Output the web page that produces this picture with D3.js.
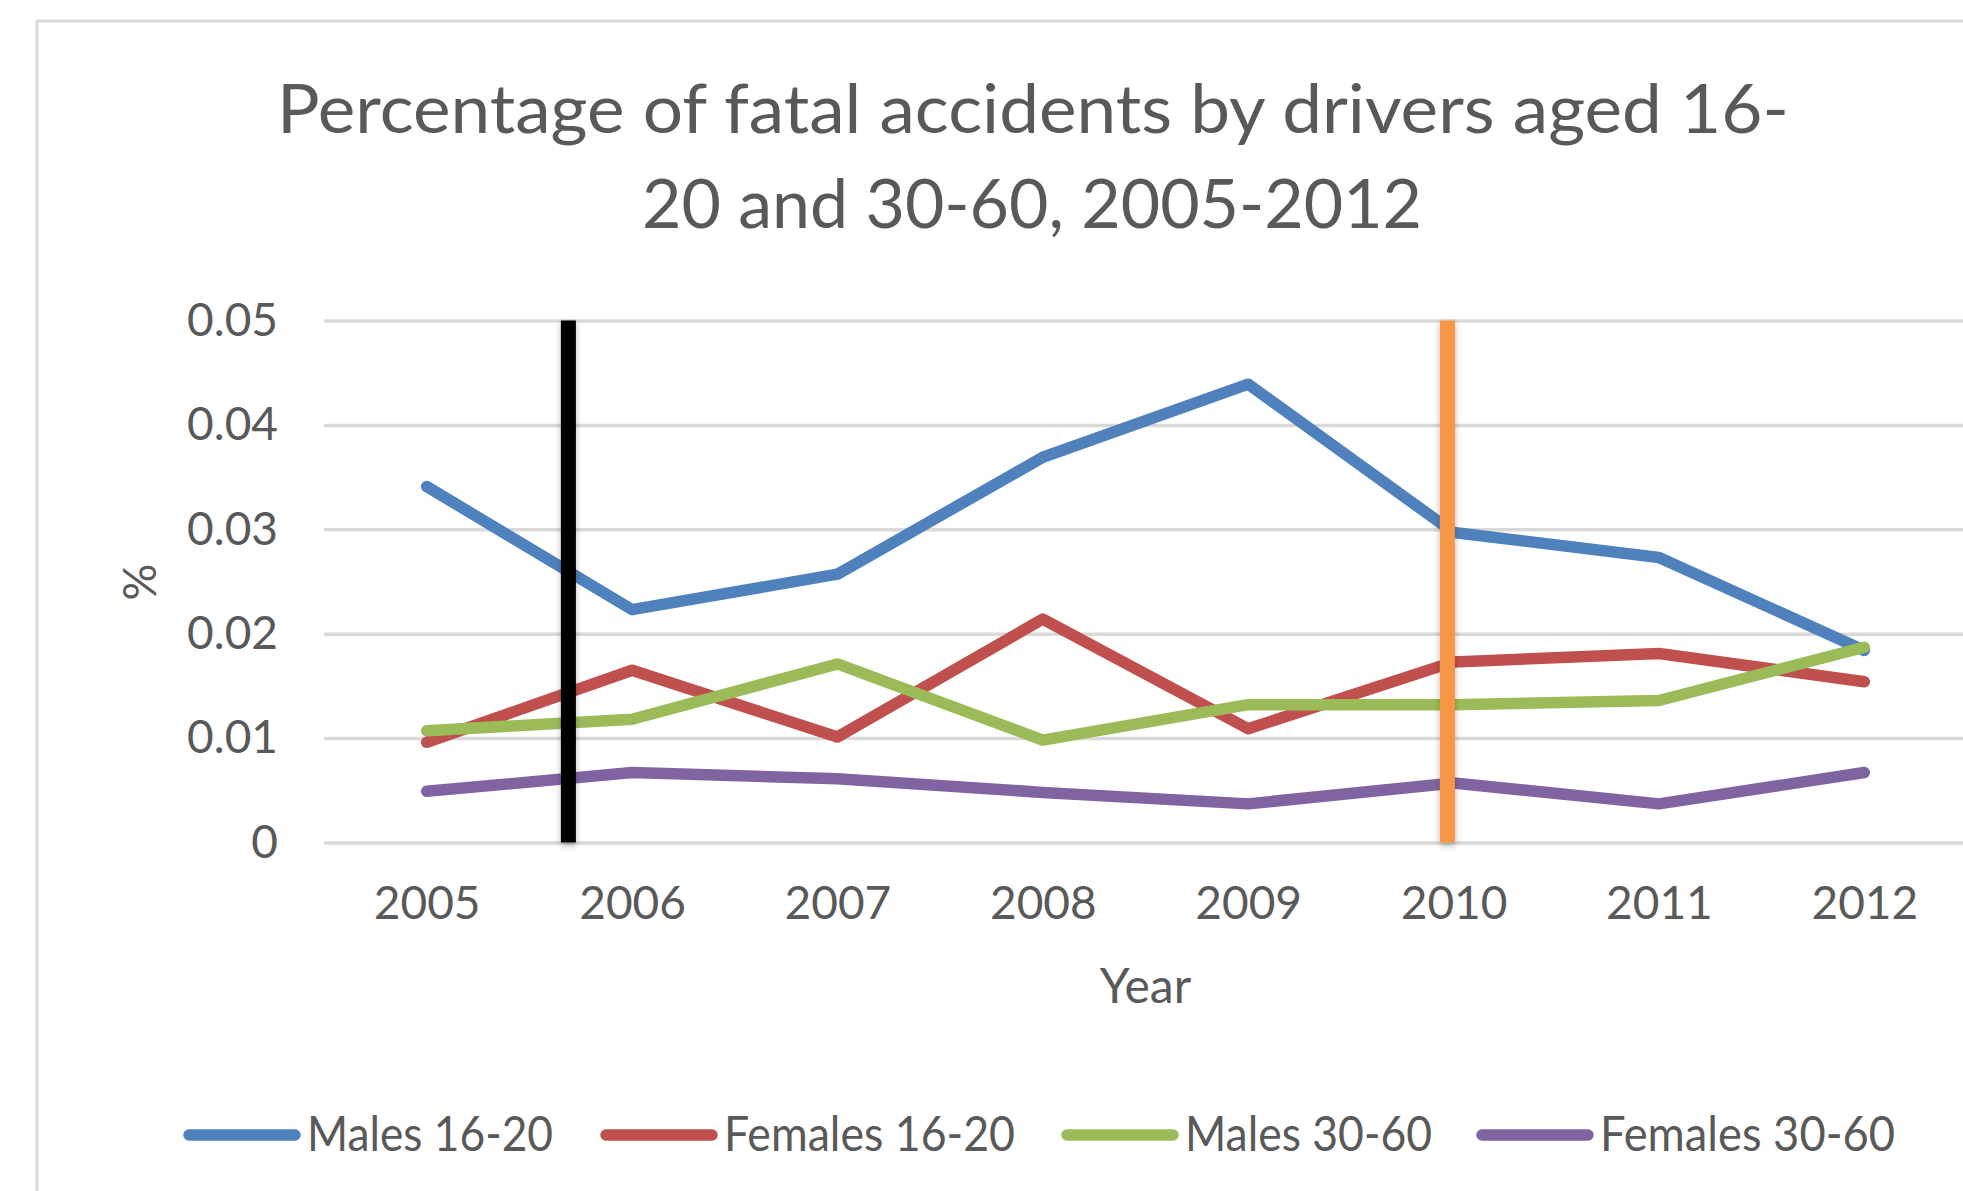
<!DOCTYPE html>
<html>
<head>
<meta charset="utf-8">
<script src="https://cdn.jsdelivr.net/npm/d3@7"></script>
<style>
  body { margin: 0; background: #fff; }
  svg { display: block; }
  text { font-family: Lato, "Open Sans", sans-serif; fill: #595959; }
</style>
</head>
<body>
<script>
// data
var years = [2005, 2006, 2007, 2008, 2009, 2010, 2011, 2012];
var males1620   = [0.0341, 0.0223, 0.0257, 0.0369, 0.0439, 0.0297, 0.0273, 0.0184];
var females1620 = [0.0096, 0.0165, 0.0101, 0.0214, 0.0109, 0.0173, 0.0181, 0.0154];
var males3060   = [0.0107, 0.0118, 0.0171, 0.0098, 0.0132, 0.0132, 0.0136, 0.0187];
var females3060 = [0.0049, 0.0067, 0.0061, 0.0048, 0.0037, 0.0057, 0.0037, 0.0067];
var seriesNames = ["Males 16-20", "Females 16-20", "Males 30-60", "Females 30-60"];
var yTicks = [0, 0.01, 0.02, 0.03, 0.04, 0.05];
var markerYears = [2005.69, 2009.97];   // the two drawn vertical bars
var markerColors = ["#000000", "#f79646"];

var colors = ["#4f81bd", "#c0504d", "#9bbb59", "#8064a2"];
var series = [males1620, females1620, males3060, females3060];

var W = 1963, H = 1191;
var svg = d3.select("body").append("svg")
    .attr("width", W)
    .attr("height", H);

// soft shadow like the excel shapes
var f = svg.append("defs").append("filter")
    .attr("id", "shadow")
    .attr("x", "-150%").attr("y", "-5%")
    .attr("width", "400%").attr("height", "115%");
f.append("feGaussianBlur").attr("in", "SourceAlpha").attr("stdDeviation", 3).attr("result", "b");
f.append("feOffset").attr("in", "b").attr("dx", 0).attr("dy", 3).attr("result", "o");
f.append("feComponentTransfer").attr("in", "o").attr("result", "s")
  .append("feFuncA").attr("type", "linear").attr("slope", 0.3);
var fm = f.append("feMerge");
fm.append("feMergeNode").attr("in", "s");
fm.append("feMergeNode").attr("in", "SourceGraphic");

// chart area border
svg.append("rect")
    .attr("x", 37).attr("y", 21)
    .attr("width", 1992).attr("height", 1220)
    .attr("fill", "#fff")
    .attr("stroke", "#d9d9d9")
    .attr("stroke-width", 3);

var plot = {left: 324, right: 1967, top: 320.5, bottom: 842.5};

var x = d3.scalePoint()
    .domain(years)
    .range([plot.left, plot.right])
    .padding(0.5);

var xLin = d3.scaleLinear()
    .domain([years[0], years[years.length - 1]])
    .range([x(years[0]), x(years[years.length - 1])]);

var y = d3.scaleLinear()
    .domain([0, 0.05])
    .range([plot.bottom, plot.top]);

// title
var title = svg.append("g").attr("class", "title");
title.append("text")
    .attr("x", 1033).attr("y", 133)
    .attr("text-anchor", "middle")
    .attr("font-size", 68)
    .attr("textLength", 1512)
    .attr("lengthAdjust", "spacingAndGlyphs")
    .text("Percentage of fatal accidents by drivers aged 16-");
title.append("text")
    .attr("x", 1032).attr("y", 228)
    .attr("text-anchor", "middle")
    .attr("font-size", 68)
    .attr("textLength", 780)
    .attr("lengthAdjust", "spacingAndGlyphs")
    .text("20 and 30-60, 2005-2012");

// gridlines + y axis labels
var yAxis = d3.axisLeft(y)
    .tickValues(yTicks)
    .tickSize(-(plot.right - plot.left))
    .tickPadding(46)
    .tickFormat(function(d) { return d === 0 ? "0" : d3.format(".2f")(d); });

var gy = svg.append("g")
    .attr("transform", "translate(" + plot.left + ",0)")
    .call(yAxis);
gy.select(".domain").remove();
gy.selectAll(".tick line")
    .attr("stroke", "#d9d9d9")
    .attr("stroke-width", 3.5);
gy.selectAll(".tick text")
    .attr("font-size", 46)
    .attr("fill", "#595959")
    .attr("font-family", "Lato, sans-serif");

// x axis labels
var xAxis = d3.axisBottom(x).tickSize(0).tickPadding(44);
var gx = svg.append("g")
    .attr("transform", "translate(0," + plot.bottom + ")")
    .call(xAxis);
gx.select(".domain").remove();
gx.selectAll(".tick text")
    .attr("font-size", 46)
    .attr("fill", "#595959")
    .attr("font-family", "Lato, sans-serif");

// axis titles
svg.append("text")
    .attr("x", (plot.left + plot.right) / 2)
    .attr("y", 1003)
    .attr("text-anchor", "middle")
    .attr("font-size", 48)
    .text("Year");

svg.append("text")
    .attr("transform", "translate(156,582) rotate(-90)")
    .attr("text-anchor", "middle")
    .attr("font-size", 46)
    .text("%");

// series lines
var line = d3.line()
    .x(function(d, i) { return x(years[i]); })
    .y(function(d) { return y(d); });

svg.append("g").selectAll("path")
    .data(series)
    .enter().append("path")
    .attr("d", line)
    .attr("fill", "none")
    .attr("stroke", function(d, i) { return colors[i]; })
    .attr("stroke-width", 11.5)
    .attr("stroke-linecap", "round")
    .attr("stroke-linejoin", "round");

// vertical marker bars drawn on top (rects so the filter has a box)
var barW = 15;
svg.append("g").selectAll("rect")
    .data(markerYears)
    .enter().append("rect")
    .attr("x", function(d) { return xLin(d) - barW / 2; })
    .attr("width", barW)
    .attr("y", y(0.05))
    .attr("height", y(0) - y(0.05))
    .attr("fill", function(d, i) { return markerColors[i]; })
    .attr("filter", "url(#shadow)");

// legend
var legendX = [184, 601, 1062, 1477];
var legendW = [246, 291, 247, 295];
var leg = svg.append("g").selectAll("g")
    .data(seriesNames)
    .enter().append("g")
    .attr("transform", function(d, i) { return "translate(" + legendX[i] + ",1135)"; });

leg.append("line")
    .attr("x1", 5).attr("x2", 111)
    .attr("stroke", function(d, i) { return colors[i]; })
    .attr("stroke-width", 11.5)
    .attr("stroke-linecap", "round");

leg.append("text")
    .attr("x", 123)
    .attr("y", 16)
    .attr("font-size", 48)
    .attr("textLength", function(d, i) { return legendW[i]; })
    .attr("lengthAdjust", "spacingAndGlyphs")
    .text(function(d) { return d; });
</script>
</body>
</html>
